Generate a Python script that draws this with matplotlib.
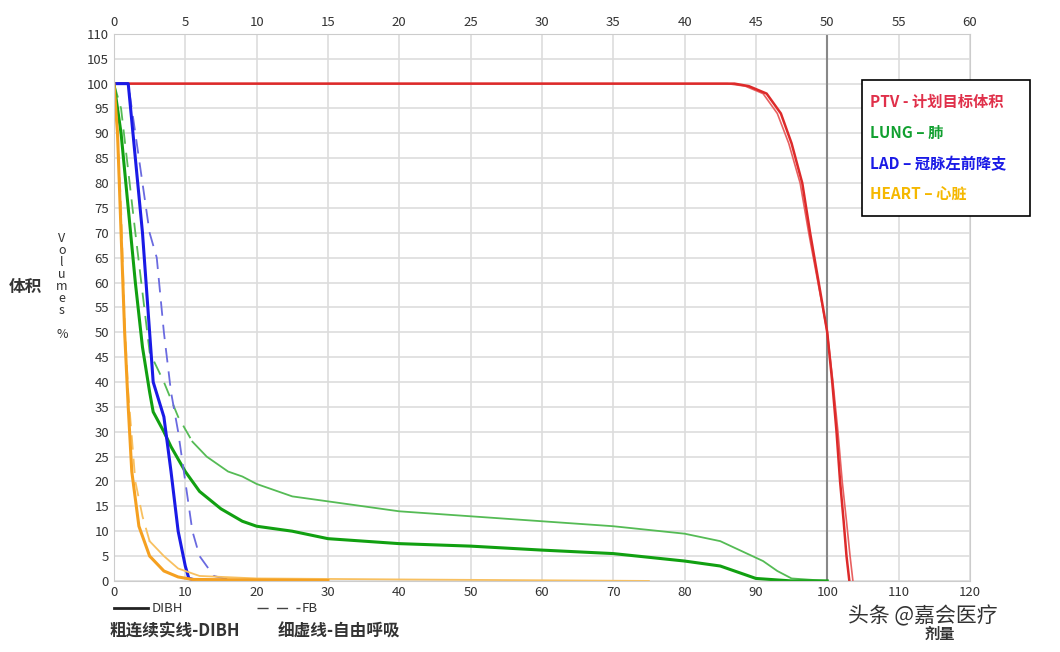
import matplotlib
matplotlib.use("Agg")
import matplotlib.pyplot as plt

plt.rcParams['font.family'] = ['Noto Sans CJK SC', 'DejaVu Sans']

ptv_x = [0, 87, 89, 91.5, 93.5, 95, 96.5, 97.6, 98.8, 100, 100.7, 101.3, 101.8, 102.3, 102.7, 103.1]
ptv_y = [100, 100, 99.5, 98, 94, 88, 80, 70, 60, 50, 40, 30, 20, 12, 5, 0]
ptv_fb_x = [0, 86, 88.5, 91, 93, 94.6, 96.2, 97.4, 98.7, 100, 100.8, 101.5, 102.1, 102.7, 103.2, 103.6]
ptv_fb_y = [100, 100, 99.5, 98, 94, 88, 80, 70, 60, 50, 40, 30, 20, 12, 5, 0]
lung_x = [0, 1, 2, 3, 4, 5, 5.5, 7, 8, 10, 12, 15, 18, 20, 25, 30, 35, 40, 50, 60, 70, 80, 85, 88, 90, 95, 100]
lung_y = [100, 90, 75, 60, 47, 38, 34, 30, 27, 22, 18, 14.5, 12, 11, 10, 8.5, 8, 7.5, 7, 6.2, 5.5, 4, 3, 1.5, 0.5, 0, 0]
lung_fb_x = [0, 1, 3, 5, 7, 9, 11, 13, 16, 18, 20, 25, 30, 35, 40, 50, 60, 70, 80, 85, 88, 91, 93, 95, 98, 100]
lung_fb_y = [100, 95, 70, 46, 40, 33, 28, 25, 22, 21, 19.5, 17, 16, 15, 14, 13, 12, 11, 9.5, 8, 6, 4, 2, 0.5, 0.2, 0]
lad_x = [0, 2, 3, 4, 5, 5.5, 7, 8, 9, 10, 10.5, 12, 20]
lad_y = [100, 100, 85, 70, 50, 40, 33, 22, 10, 3, 0.5, 0, 0]
lad_fb_x = [0, 2, 3, 4, 5, 6, 7, 8, 9, 10, 11, 12, 14, 16, 20]
lad_fb_y = [100, 100, 90, 80, 70, 65, 50, 38, 30, 20, 10, 5, 1, 0.3, 0]
heart_x = [0, 0.5, 1, 1.5, 2, 2.5, 3.5, 5, 7, 9, 11, 20, 30]
heart_y = [100, 90, 70, 50, 35, 22, 11, 5, 2, 0.8, 0.3, 0.2, 0.1]
heart_fb_x = [0, 0.5, 1, 1.5, 2, 3, 4, 5, 7, 9, 12, 20, 40, 75]
heart_fb_y = [100, 90, 75, 52, 38, 20, 13, 8, 5, 2.5, 1, 0.5, 0.3, 0]

fig = plt.figure(figsize=(10.6, 6.52), dpi=100)
ax = fig.add_axes([0.1075, 0.109, 0.8075, 0.839])
ax.set_xlim(0, 120)
ax.set_ylim(0, 110)
ax.set_xticks(range(0, 121, 10))
ax.set_yticks(range(0, 111, 5))
ax.grid(True, color='#dddddd', linewidth=1.2)
ax.set_axisbelow(True)
for s in ax.spines.values():
    s.set_color('#cccccc')
ax.tick_params(length=0, labelsize=9.5, colors='#333333')

ax.axvline(100, color='#888888', linewidth=1.5)

red, green, lgreen, blue, lblue, orange, lorange = '#dd2a2a', '#11a011', '#55bb55', '#1a1ae6', '#6a6ae0', '#f5a020', '#f8c060'
ax.plot(ptv_fb_x, ptv_fb_y, color='#e86060', lw=1.2)
ax.plot(ptv_x, ptv_y, color=red, lw=1.8)
# FB lung: dashed in the steep part, solid thin afterwards
k = 7
ax.plot(lung_fb_x[:k], lung_fb_y[:k], color=lgreen, lw=1.3, dashes=(8, 5))
ax.plot(lung_fb_x[k - 1:], lung_fb_y[k - 1:], color=lgreen, lw=1.3)
ax.plot(lung_x, lung_y, color=green, lw=2.2)
ax.plot(lad_fb_x, lad_fb_y, color=lblue, lw=1.3, dashes=(8, 5))
ax.plot(lad_x, lad_y, color=blue, lw=2.2)
h = 8
ax.plot(heart_fb_x[:h], heart_fb_y[:h], color=lorange, lw=1.3, dashes=(8, 5))
ax.plot(heart_fb_x[h - 1:], heart_fb_y[h - 1:], color=lorange, lw=1.3)
ax.plot(heart_x, heart_y, color=orange, lw=2.2)

top = ax.twiny()
top.set_xlim(0, 60)
top.set_xticks(range(0, 61, 5))
top.tick_params(length=0, labelsize=9.5, colors='#333333')
for s in top.spines.values():
    s.set_visible(False)

fig.patches.append(plt.Rectangle((862/1060, 1-216/652), 168/1060, 136/652, transform=fig.transFigure,
                                 facecolor='white', edgecolor='black', lw=1.2))
for i, (t, c) in enumerate([('PTV - 计划目标体积', '#e0304a'), ('LUNG – 肺', '#11a030'),
                            ('LAD – 冠脉左前降支', '#1a1ae6'), ('HEART – 心脏', '#f5b800')]):
    fig.text(870/1060, 1-(102+i*31)/652, t, color=c, fontsize=11, fontweight='bold', va='center')

fig.text(25/1060, 1-287/652, '体积', fontsize=12, fontweight='bold', color='#333333', va='center', ha='center')
fig.text(62/1060, 1-287/652, 'V\no\nl\nu\nm\ne\ns\n\n%', fontsize=9, color='#333333', va='center', ha='center', linespacing=0.9)

fig.lines.append(plt.Line2D([114/1060, 148/1060], [1-608/652]*2, color='#222222', lw=2, transform=fig.transFigure))
fig.text(152/1060, 1-608/652, 'DIBH', fontsize=9.5, color='#333333', va='center')
fig.lines.append(plt.Line2D([257/1060, 300/1060], [1-608/652]*2, color='#444444', lw=1, dashes=(8, 6), transform=fig.transFigure))
fig.text(302/1060, 1-608/652, 'FB', fontsize=9.5, color='#333333', va='center')
fig.text(110/1060, 1-632/652, '粗连续实线-DIBH', fontsize=12, fontweight='bold', color='#333333', va='center')
fig.text(278/1060, 1-632/652, '细虚线-自由呼吸', fontsize=12, fontweight='bold', color='#333333', va='center')
fig.text(925/1060, 1-634/652, '剂量', fontsize=11, fontweight='bold', color='#333333', va='center')
fig.text(848/1060, 1-616/652, '头条 @嘉会医疗', fontsize=15, color='#333333', va='center')

fig.savefig('out.png', dpi=100, facecolor='white')
